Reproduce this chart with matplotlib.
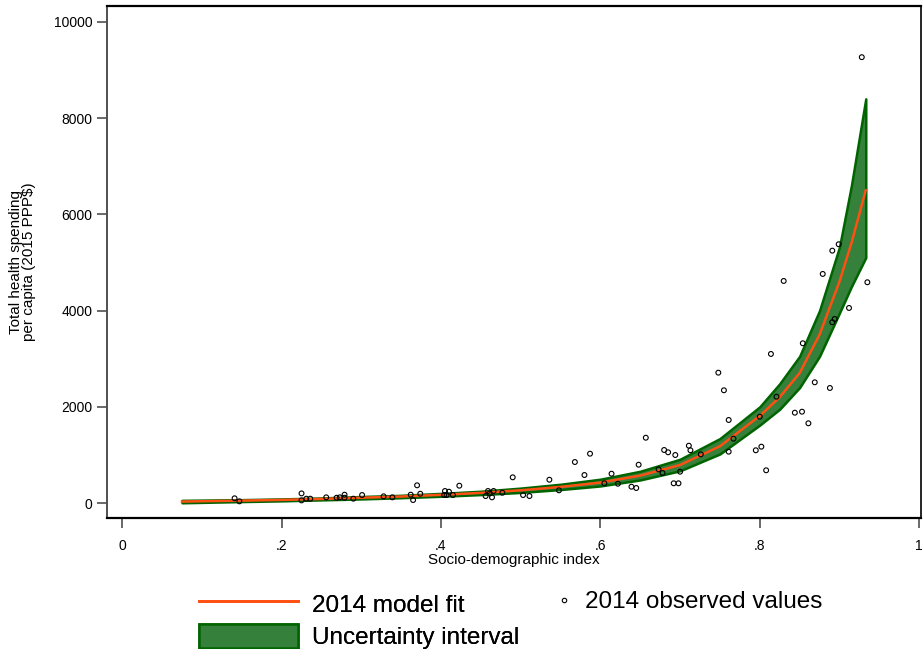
import matplotlib
matplotlib.use("Agg")
import matplotlib.pyplot as plt
from matplotlib.lines import Line2D
from matplotlib.patches import Patch

plt.rcParams['font.family'] = ['Liberation Sans', 'DejaVu Sans']

# model fit and uncertainty interval
sdi_fit = [0.075, 0.15, 0.2, 0.25, 0.3, 0.35, 0.4, 0.45, 0.5, 0.55, 0.6,
           0.65, 0.7, 0.75, 0.8, 0.825, 0.85, 0.875, 0.9, 0.915, 0.933]
fit = [30, 50, 65, 85, 110, 135, 170, 210, 265, 335, 425,
       570, 790, 1180, 1810, 2200, 2700, 3500, 4600, 5400, 6500]
lower = [5, 30, 45, 65, 85, 110, 140, 175, 220, 280, 355,
         480, 670, 1020, 1620, 1950, 2400, 3050, 3950, 4500, 5100]
upper = [55, 70, 85, 105, 135, 160, 200, 245, 310, 390, 495,
         660, 910, 1340, 2000, 2480, 3050, 4000, 5320, 6600, 8400]

# observed 2014 values
sdi_obs = [0.141, 0.147, 0.225, 0.225, 0.231, 0.236, 0.256, 0.269, 0.273, 0.279,
           0.279, 0.290, 0.301, 0.328, 0.339, 0.362, 0.370, 0.374, 0.365, 0.405,
           0.410, 0.404, 0.407, 0.415, 0.423, 0.459, 0.456, 0.464, 0.461, 0.466,
           0.477, 0.490, 0.503, 0.511, 0.536, 0.548, 0.568, 0.580, 0.587, 0.605,
           0.614, 0.622, 0.639, 0.645, 0.648, 0.657, 0.673, 0.678, 0.680, 0.685,
           0.692, 0.698, 0.694, 0.700, 0.711, 0.713, 0.726, 0.748, 0.755, 0.761,
           0.761, 0.767, 0.795, 0.802, 0.808, 0.800, 0.821, 0.844, 0.853, 0.861,
           0.869, 0.888, 0.814, 0.854, 0.830, 0.879, 0.891, 0.899, 0.935, 0.912,
           0.891, 0.894, 0.928]
spend_obs = [98, 35, 200, 55, 90, 90, 118, 110, 118, 173,
             110, 90, 166, 139, 118, 173, 368, 193, 62, 250,
             235, 166, 166, 166, 360, 250, 145, 118, 200, 250,
             214, 534, 166, 145, 484, 264, 852, 582, 1025, 410,
             609, 401, 339, 312, 796, 1357, 700, 624, 1102, 1054,
             410, 410, 998, 651, 1191, 1096, 1012, 2709, 2343, 1726,
             1067, 1337, 1096, 1171, 680, 1794, 2210, 1877, 1898, 1657,
             2509, 2391, 3098, 3320, 4615, 4761, 5245, 5378, 4588, 4054,
             3757, 3825, 9266]

x_ticks = [0, 0.2, 0.4, 0.6, 0.8, 1.0]
x_ticklabels = ['0', '.2', '.4', '.6', '.8', '1']
y_ticks = [0, 2000, 4000, 6000, 8000, 10000]

fill_col = '#35803a'
edge_col = '#006400'
fit_col = '#ff5014'

fig = plt.figure(figsize=(9.23, 6.49), dpi=100)
ax = fig.add_axes([0.116, 0.2018, 0.882, 0.789])

ax.fill_between(sdi_fit, lower, upper, facecolor=fill_col, edgecolor=edge_col,
                linewidth=1.8, zorder=2)
ax.plot(sdi_fit, fit, color=fit_col, linewidth=1.8, zorder=3)
ax.scatter(sdi_obs, spend_obs, s=12, facecolors='none', edgecolors='black',
           linewidths=0.8, zorder=4)

ax.set_xlim(-0.019, 1.0025)
ax.set_ylim(-312, 10330)
ax.set_xticks(x_ticks)
ax.set_xticklabels(x_ticklabels)
ax.set_yticks(y_ticks)
ax.tick_params(axis='both', direction='out', length=7, width=1.2,
               color='#505050', labelsize=10)
ax.tick_params(axis='x', pad=8)

for side in ['top', 'bottom']:
    ax.spines[side].set_linewidth(1.6)
    ax.spines[side].set_color('black')
ax.spines['left'].set_color('#505050')
ax.spines['left'].set_linewidth(1.4)
ax.spines['right'].set_linewidth(1.2)

ax.set_xlabel('Socio-demographic index', fontsize=11, labelpad=0)
ax.set_ylabel('Total health spending\nper capita (2015 PPP$)', fontsize=11,
              labelpad=13, linespacing=0.9)

# legend below the plot: two entries on the left, one on the right
h_fit = Line2D([], [], color=fit_col, linewidth=2)
h_ui = Patch(facecolor=fill_col, edgecolor=edge_col, linewidth=1.8)
leg1 = fig.legend([h_fit, h_ui], ['2014 model fit', 'Uncertainty interval'],
                  loc='upper left', bbox_to_anchor=(0.216, 0.089), frameon=False,
                  fontsize=17.5, handlelength=4.05, handleheight=1.15,
                  handletextpad=0.6, labelspacing=0.3, borderpad=0,
                  borderaxespad=0)
h_obs = Line2D([], [], linestyle='none', marker='o', markersize=3.2,
               markerfacecolor='none', markeredgecolor='black',
               markeredgewidth=0.8)
leg2 = fig.legend([h_obs], ['2014 observed values'],
                  loc='upper left', bbox_to_anchor=(0.605, 0.089), frameon=False,
                  fontsize=17.5, handlelength=0.5, handletextpad=0.6,
                  borderpad=0, borderaxespad=0)
fig.add_artist(leg1)

fig.savefig('out.png', dpi=100)
